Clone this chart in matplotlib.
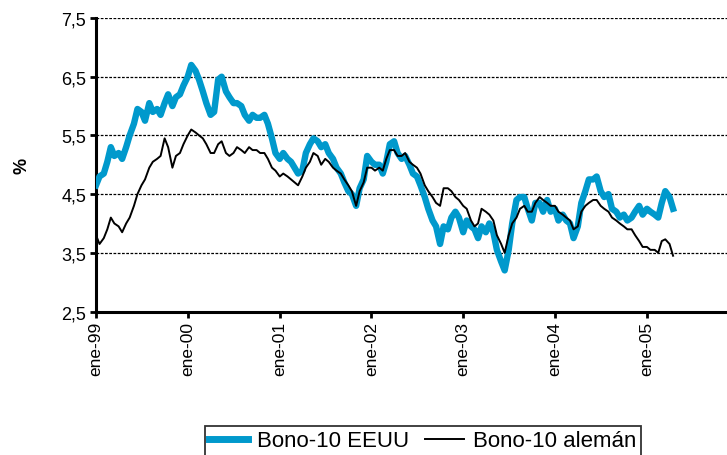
import matplotlib
matplotlib.use("Agg")
import matplotlib.pyplot as plt
from matplotlib.ticker import FuncFormatter, FixedLocator
import pandas as pd

dates = pd.date_range("1999-01-01", "2005-04-15", freq="SMS")

us_10y = [
    # 1999
    4.65, 4.80, 4.85, 5.05, 5.30, 5.15, 5.20, 5.10, 5.30, 5.50, 5.70, 5.95,
    5.90, 5.75, 6.05, 5.90, 5.95, 5.85, 6.05, 6.20, 6.00, 6.15, 6.20, 6.35,
    # 2000
    6.50, 6.70, 6.60, 6.45, 6.25, 6.05, 5.85, 5.90, 6.45, 6.50, 6.25, 6.15,
    6.05, 6.05, 6.00, 5.85, 5.75, 5.85, 5.80, 5.80, 5.85, 5.70, 5.45, 5.20,
    # 2001
    5.10, 5.20, 5.10, 5.05, 4.95, 4.85, 4.90, 5.20, 5.35, 5.45, 5.40, 5.30,
    5.35, 5.20, 5.10, 4.95, 4.85, 4.70, 4.55, 4.50, 4.30, 4.60, 4.75, 5.15,
    # 2002
    5.05, 5.00, 5.00, 4.85, 5.05, 5.35, 5.40, 5.20, 5.10, 5.15, 5.00, 4.85,
    4.80, 4.65, 4.45, 4.25, 4.05, 3.95, 3.65, 3.95, 3.90, 4.10, 4.20, 4.10,
    # 2003
    3.85, 4.05, 3.95, 3.90, 3.75, 3.95, 3.85, 4.00, 3.85, 3.55, 3.35, 3.20,
    3.55, 4.00, 4.40, 4.45, 4.45, 4.25, 4.05, 4.35, 4.35, 4.20, 4.40, 4.20,
    # 2004
    4.25, 4.05, 4.15, 4.05, 4.00, 3.75, 3.95, 4.35, 4.55, 4.75, 4.75, 4.80,
    4.55, 4.45, 4.50, 4.25, 4.20, 4.10, 4.15, 4.05, 4.10, 4.20, 4.30, 4.15,
    # 2005
    4.25, 4.20, 4.15, 4.10, 4.35, 4.55, 4.45, 4.25,
]

de_10y = [
    # 1999
    3.80, 3.65, 3.75, 3.90, 4.10, 4.00, 3.95, 3.85, 4.00, 4.10, 4.30, 4.50,
    4.65, 4.75, 4.95, 5.05, 5.10, 5.15, 5.45, 5.30, 4.95, 5.15, 5.20, 5.35,
    # 2000
    5.50, 5.60, 5.55, 5.50, 5.45, 5.35, 5.20, 5.20, 5.35, 5.40, 5.20, 5.15,
    5.20, 5.30, 5.25, 5.20, 5.30, 5.25, 5.25, 5.20, 5.20, 5.10, 4.95, 4.90,
    # 2001
    4.80, 4.85, 4.80, 4.75, 4.70, 4.65, 4.80, 4.95, 5.05, 5.20, 5.15, 5.00,
    5.10, 5.05, 4.95, 4.90, 4.85, 4.75, 4.65, 4.55, 4.30, 4.55, 4.70, 4.95,
    # 2002
    4.95, 4.90, 4.95, 4.90, 5.10, 5.25, 5.25, 5.15, 5.15, 5.20, 5.05, 5.00,
    4.95, 4.85, 4.65, 4.55, 4.45, 4.35, 4.30, 4.60, 4.60, 4.55, 4.45, 4.40,
    # 2003
    4.30, 4.25, 4.05, 3.95, 4.00, 4.25, 4.20, 4.15, 4.05, 3.80, 3.65, 3.50,
    3.80, 4.00, 4.10, 4.25, 4.30, 4.20, 4.20, 4.35, 4.45, 4.40, 4.35, 4.30,
    # 2004
    4.30, 4.20, 4.15, 4.10, 4.05, 3.90, 3.95, 4.20, 4.30, 4.35, 4.40, 4.40,
    4.30, 4.25, 4.20, 4.10, 4.05, 4.00, 3.95, 3.90, 3.90, 3.80, 3.70, 3.60,
    # 2005
    3.60, 3.55, 3.55, 3.50, 3.70, 3.73, 3.65, 3.45,
]

y_ticks = [2.5, 3.5, 4.5, 5.5, 6.5, 7.5]
x_tick_labels = ["ene-99", "ene-00", "ene-01", "ene-02", "ene-03", "ene-04", "ene-05"]
x_tick_dates = pd.to_datetime(["1999-01-01", "2000-01-01", "2001-01-01", "2002-01-01",
                               "2003-01-01", "2004-01-01", "2005-01-01"])

FONT = "Liberation Sans"
BLUE = "#0099CC"

fig = plt.figure(figsize=(7.27, 4.56), dpi=100)
ax = fig.add_axes([96 / 727, 1 - 312.5 / 456, 1 - 96 / 727, (312.5 - 19) / 456])

l_us, = ax.plot(dates, us_10y, color=BLUE, lw=4.6, label="Bono-10 EEUU", zorder=3)
l_de, = ax.plot(dates, de_10y, color="black", lw=1.4, label="Bono-10 alemán", zorder=4)

ax.set_ylim(2.5, 7.5)
ax.yaxis.set_major_locator(FixedLocator(y_ticks))
ax.yaxis.set_major_formatter(FuncFormatter(lambda v, p: f"{v:.1f}".replace(".", ",")))
for v in y_ticks[1:]:
    ax.axhline(v, color="black", lw=0.9, ls=(0, (2.2, 1.2)), zorder=1)

x0 = pd.Timestamp("1999-01-01")
x1 = x0 + pd.Timedelta(days=365.25 * (727 - 96) / 91.8)
ax.set_xlim(x0, x1)
ax.set_xticks(x_tick_dates)
ax.set_xticklabels(x_tick_labels, rotation=90, fontfamily=FONT, fontsize=12.5)

for s in ["top", "right"]:
    ax.spines[s].set_visible(False)
for s in ["left", "bottom"]:
    ax.spines[s].set_linewidth(2.2)
ax.tick_params(axis="both", direction="out", length=4, width=2, color="black")
ax.tick_params(axis="y", labelsize=13, pad=3)
ax.tick_params(axis="x", pad=3)
for lab in ax.get_yticklabels():
    lab.set_fontfamily(FONT)

ax.set_ylabel("%", fontfamily=FONT, fontsize=13, fontweight="bold", labelpad=22)

leg = fig.legend(handles=[l_us, l_de], loc="upper left",
                 bbox_to_anchor=(205 / 727, 1 - 427 / 456), ncol=2,
                 prop={"family": FONT, "size": 16}, frameon=True, fancybox=False,
                 edgecolor="black", handlelength=1.75, handletextpad=0.4,
                 columnspacing=0.7, borderpad=0.2, borderaxespad=0)
leg.get_frame().set_linewidth(1.3)
leg.legend_handles[0].set_linewidth(5)
leg.legend_handles[1].set_linewidth(1.4)

fig.savefig("out.png", dpi=100)
